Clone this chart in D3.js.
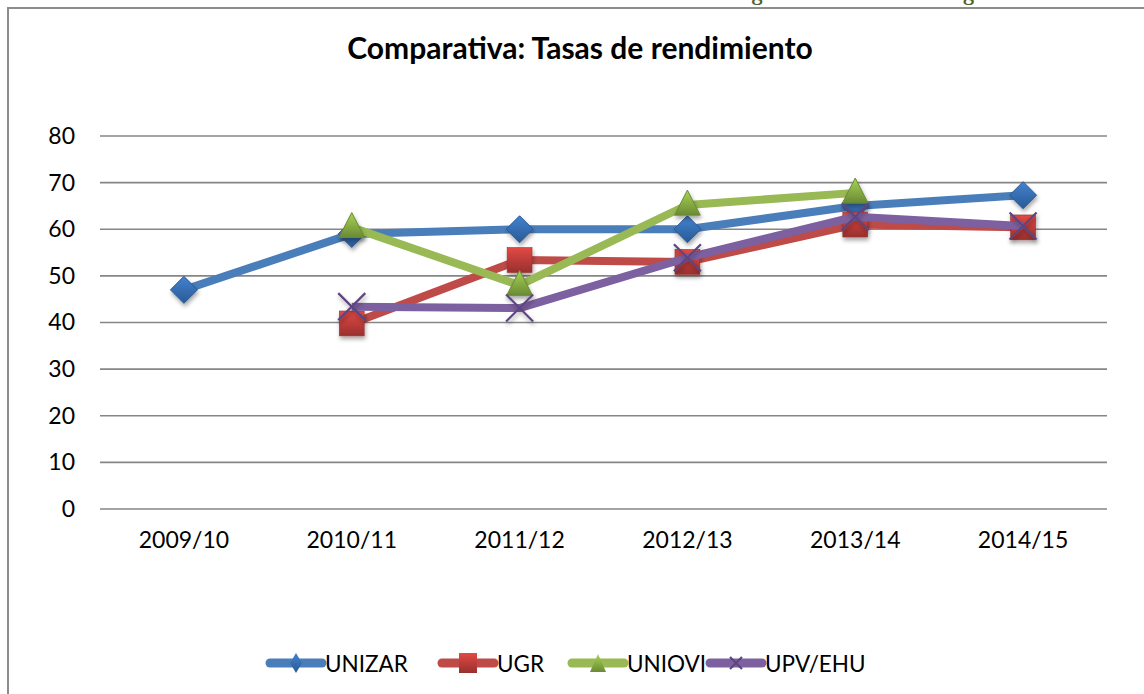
<!DOCTYPE html>
<html lang="es">
<head>
  <meta charset="UTF-8" />
  <title>Comparativa: Tasas de rendimiento</title>
  <script src="https://d3js.org/d3.v7.min.js"></script>
  <style>
    html, body {
      margin: 0;
      padding: 0;
      width: 1144px;
      height: 694px;
      overflow: hidden;
      background: #fff;
      font-family: Lato, "Open Sans", sans-serif;
    }
    svg { display: block; }
  </style>
</head>
<body>
<svg width="1144" height="694"></svg>

<script>
const years = ["2009/10", "2010/11", "2011/12", "2012/13", "2013/14", "2014/15"];
const yTicks = [0, 10, 20, 30, 40, 50, 60, 70, 80];

const unizar = [47, 59, 60, 60, 65, 67.3];
const ugr    = [null, 39.8, 53.4, 53, 61, 60.4];
const uniovi = [null, 60.4, 48, 65.2, 67.8, null];
const upvehu = [null, 43.4, 43.1, 53.9, 62.7, 60.7];

const seriesNames = ["UNIZAR", "UGR", "UNIOVI", "UPV/EHU"];

const series = [
  { name: seriesNames[0], values: unizar, line: "#4a7ebb", fill: "#3a73b8", dark: "#2a5a94", marker: "diamond" },
  { name: seriesNames[1], values: ugr,    line: "#be4b48", fill: "#c8403c", dark: "#98302e", marker: "square" },
  { name: seriesNames[2], values: uniovi, line: "#98b954", fill: "#94bb4a", dark: "#6a8a34", marker: "triangle" },
  { name: seriesNames[3], values: upvehu, line: "#7d60a0", fill: "#7d60a0", dark: "#5f4580", marker: "x" }
];

const svg = d3.select("svg");
const defs = svg.append("defs");

const shadow = defs.append("filter").attr("id", "shadow")
  .attr("x", "-50%").attr("y", "-50%").attr("width", "200%").attr("height", "200%");
shadow.append("feDropShadow")
  .attr("dx", 1).attr("dy", 3).attr("stdDeviation", 2)
  .attr("flood-color", "#000").attr("flood-opacity", 0.35);

series.forEach((s, i) => {
  const g = defs.append("linearGradient").attr("id", "grad" + i)
    .attr("x1", 0).attr("y1", 0).attr("x2", 0).attr("y2", 1);
  g.append("stop").attr("offset", "0%").attr("stop-color", d3.color(s.fill).brighter(0.35));
  g.append("stop").attr("offset", "100%").attr("stop-color", s.dark);
});

// caption of the page above, only its bottom edge shows
svg.append("text")
  .attr("x", 2).attr("y", -0.5)
  .attr("fill", "#4f6228")
  .attr("font-family", "Cambria, 'DejaVu Serif', serif")
  .attr("font-size", 24)
  .attr("textLength", 1000)
  .text("Tabla 11: Evolución de la tasa de rendimiento en el grado de Geología");

// chart frame (runs past the right and bottom edges)
svg.append("rect")
  .attr("x", 8).attr("y", 8)
  .attr("width", 1160).attr("height", 720)
  .attr("fill", "#fff")
  .attr("stroke", "#8c8c8c").attr("stroke-width", 2);

svg.append("text")
  .attr("x", 580).attr("y", 59)
  .attr("text-anchor", "middle")
  .attr("font-size", 30).attr("font-weight", "bold")
  .attr("fill", "#000")
  .text("Comparativa: Tasas de rendimiento");

const margin = { left: 100, right: 1107, top: 136, bottom: 509 };

const x = d3.scaleBand().domain(years).range([margin.left, margin.right]);
const y = d3.scaleLinear().domain([0, 80]).range([margin.bottom, margin.top]);

// gridlines
svg.append("g")
  .selectAll("line")
  .data(yTicks)
  .join("line")
  .attr("x1", margin.left).attr("x2", margin.right)
  .attr("y1", d => y(d)).attr("y2", d => y(d))
  .attr("stroke", "#868686").attr("stroke-width", 1.6);

const yAxis = svg.append("g")
  .attr("transform", `translate(${margin.left},0)`)
  .call(d3.axisLeft(y).tickValues(yTicks).tickSize(0).tickPadding(25));
yAxis.select(".domain").remove();
yAxis.selectAll("text").attr("font-size", 23).attr("font-family", "Lato, sans-serif").attr("fill", "#000");

const xAxis = svg.append("g")
  .attr("transform", `translate(0,${margin.bottom})`)
  .call(d3.axisBottom(x).tickSize(0).tickPadding(23));
xAxis.select(".domain").remove();
xAxis.selectAll("text").attr("font-size", 23).attr("font-family", "Lato, sans-serif").attr("fill", "#000");

const cx = d => x(d) + x.bandwidth() / 2;

function drawMarker(g, s, i, size) {
  const h = size / 2;
  if (s.marker === "diamond") {
    g.append("path")
      .attr("d", `M0,${-h}L${h},0L0,${h}L${-h},0Z`)
      .attr("fill", `url(#grad${i})`).attr("stroke", s.dark).attr("stroke-width", 1);
  } else if (s.marker === "square") {
    const a = h * 0.92;
    g.append("rect")
      .attr("x", -a).attr("y", -a).attr("width", 2 * a).attr("height", 2 * a)
      .attr("fill", `url(#grad${i})`).attr("stroke", s.dark).attr("stroke-width", 0.6);
  } else if (s.marker === "triangle") {
    g.append("path")
      .attr("d", `M0,${-h * 1.1}L${h * 0.95},${h * 0.75}L${-h * 0.95},${h * 0.75}Z`)
      .attr("fill", `url(#grad${i})`).attr("stroke", s.dark).attr("stroke-width", 1);
  } else {
    g.append("path")
      .attr("d", `M${-h},${-h}L${h},${h}M${h},${-h}L${-h},${h}`)
      .attr("fill", "none").attr("stroke", s.dark).attr("stroke-width", 2.2);
  }
}

const line = d3.line()
  .defined(d => d.v != null)
  .x(d => cx(d.year))
  .y(d => y(d.v));

series.forEach((s, i) => {
  const pts = years.map((yr, k) => ({ year: yr, v: s.values[k] }));
  const g = svg.append("g");
  g.append("path")
    .datum(pts)
    .attr("d", line)
    .attr("fill", "none")
    .attr("stroke", s.line)
    .attr("stroke-width", 8)
    .attr("stroke-linejoin", "round");
  pts.filter(d => d.v != null).forEach(d => {
    const m = g.append("g")
      .attr("transform", `translate(${cx(d.year)},${y(d.v)})`)
      .attr("filter", "url(#shadow)");
    drawMarker(m, s, i, 27);
  });
});

// legend
const legendX = [266, 438, 568, 706];
const legend = svg.append("g").attr("transform", "translate(0,663)");
series.forEach((s, i) => {
  const g = legend.append("g").attr("transform", `translate(${legendX[i]},0)`);
  g.append("line")
    .attr("x1", 4).attr("x2", 56)
    .attr("stroke", s.line).attr("stroke-width", 9).attr("stroke-linecap", "round");
  const m = g.append("g").attr("transform", "translate(30,0)");
  if (s.marker === "x") {
    drawMarker(m, s, i, 12);
  } else if (s.marker === "diamond") {
    m.append("path").attr("d", "M0,-10L6,0L0,10L-6,0Z").attr("fill", `url(#grad${i})`);
  } else if (s.marker === "square") {
    m.append("rect").attr("x", -9).attr("y", -10).attr("width", 18).attr("height", 20).attr("fill", `url(#grad${i})`);
  } else {
    m.append("path").attr("d", "M0,-9L8,9L-8,9Z").attr("fill", `url(#grad${i})`);
  }
  g.append("text")
    .attr("x", 59).attr("y", 8.5)
    .attr("font-size", 22.5)
    .attr("fill", "#000")
    .text(s.name);
});
</script>
</body>
</html>
